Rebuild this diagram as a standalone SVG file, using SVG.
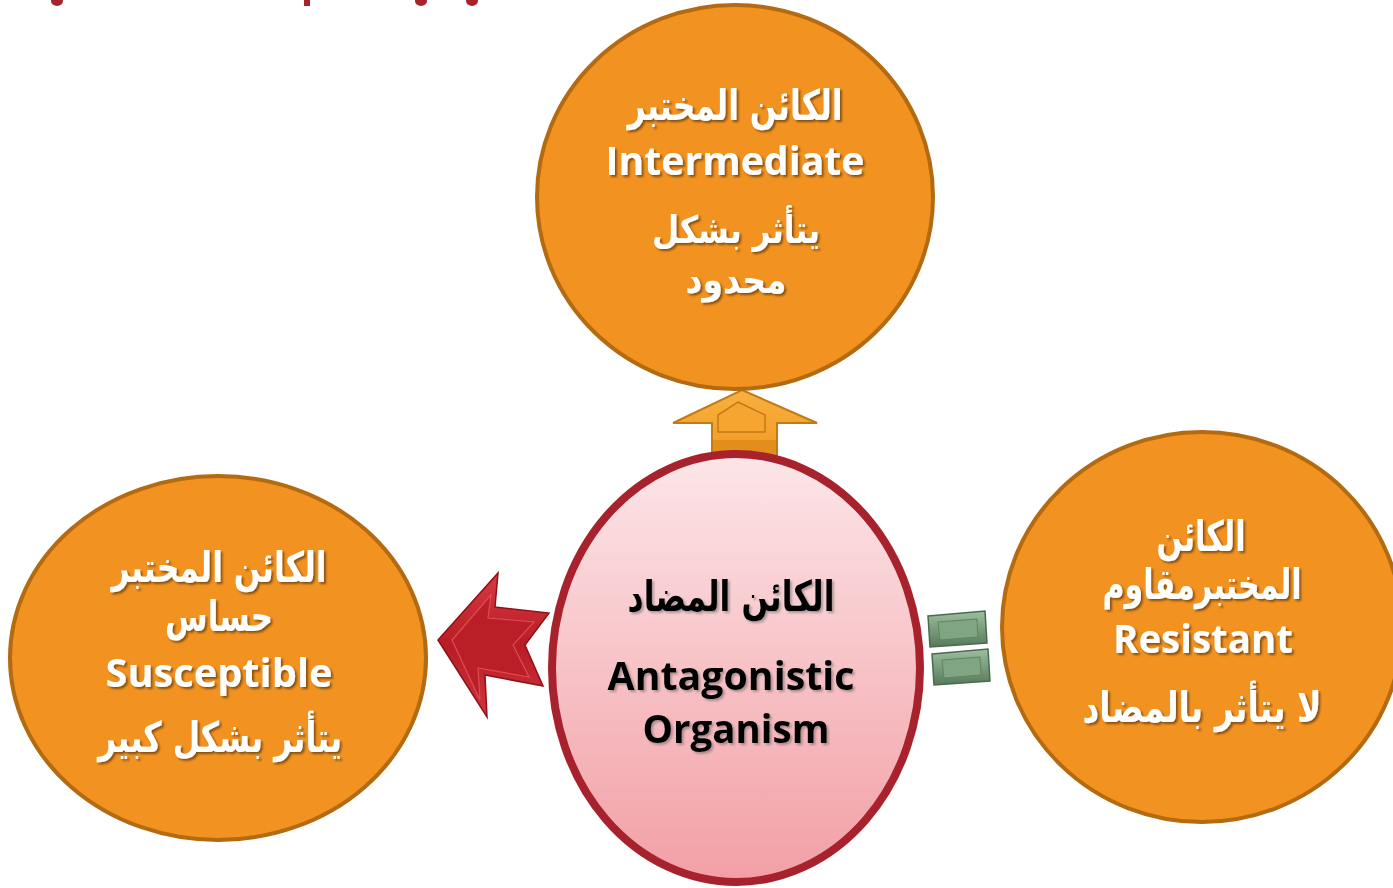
<svg xmlns="http://www.w3.org/2000/svg" width="1393" height="888" viewBox="0 0 1393 888">
<style>
.node{fill:#F29220;stroke:#B46A10;stroke-width:4}
.w{fill:#FFFFFF;font-weight:bold;filter:url(#sh)}
.b{fill:#000000;font-weight:bold;filter:url(#shg)}
.ar{font-family:"DejaVu Sans",sans-serif;font-size:42px;direction:rtl}
.ar2{font-family:"DejaVu Sans",sans-serif;font-size:38px;direction:rtl}
.en{font-family:"Open Sans","Noto Sans",sans-serif;font-size:40px}
</style>
<defs>
<filter id="sh" x="-10%" y="-30%" width="120%" height="160%">
<feDropShadow dx="2" dy="2" stdDeviation="1.2" flood-color="#000" flood-opacity="0.45"/>
</filter>
<filter id="shg" x="-10%" y="-30%" width="120%" height="160%">
<feDropShadow dx="2" dy="2" stdDeviation="1.2" flood-color="#555" flood-opacity="0.45"/>
</filter>
<linearGradient id="pink" x1="0" y1="0" x2="0" y2="1">
<stop offset="0" stop-color="#FCE6E8"/>
<stop offset="1" stop-color="#F29FA5"/>
</linearGradient>
<linearGradient id="redg" x1="0" y1="0" x2="0" y2="1">
<stop offset="0" stop-color="#D83A42"/>
<stop offset="0.5" stop-color="#B81C25"/>
<stop offset="1" stop-color="#D0343C"/>
</linearGradient>
<linearGradient id="greeng" x1="0" y1="0" x2="0" y2="1">
<stop offset="0" stop-color="#9DBF9F"/>
<stop offset="1" stop-color="#557B5A"/>
</linearGradient>
<linearGradient id="orag" x1="0" y1="0" x2="0" y2="1">
<stop offset="0" stop-color="#F8B040"/>
<stop offset="1" stop-color="#F09A22"/>
</linearGradient>
</defs>

<g id="title-fragments" fill="#A8232B">
<ellipse cx="57" cy="1" rx="6" ry="5"/>
<rect x="304" y="0" width="6" height="6"/>
<ellipse cx="421" cy="1" rx="6" ry="5"/>
<ellipse cx="472" cy="1" rx="6" ry="5"/>
</g>

<g id="connectors">
<g id="arrow-up">
<path d="M742,390 L817,423 L777,423 L777,460 L712,460 L712,423 L673,423 Z" fill="url(#orag)" stroke="#C27A16" stroke-width="2"/>
<path d="M738,402 L765,415 L765,432 L718,432 L718,415 Z" fill="#F6A630" stroke="#C27A16" stroke-width="1.5"/>
<rect x="713" y="440" width="63" height="18" fill="#E38E1C"/>
</g>
<g id="arrow-left">
<path d="M438,640 L498,573 L495,607 L549,613 L525,645 L543,686 L485,675 L487,717 Z" fill="url(#redg)" stroke="#8E1218" stroke-width="1.5"/>
<path d="M452,640 L491,595 L488,618 L534,622 L513,645 L529,677 L478,668 L480,700 Z" fill="#BA1E27" stroke="#E04A52" stroke-width="1.2"/>
</g>
<g id="equals">
<path d="M928,616 L985,611 L987,643 L930,647 Z" fill="url(#greeng)" stroke="#4A6A4E" stroke-width="1.5"/>
<path d="M938,622 L977,619 L978,637 L940,640 Z" fill="#7FA583" stroke="#5E8462" stroke-width="1"/>
<path d="M932,654 L988,649 L990,681 L934,685 Z" fill="url(#greeng)" stroke="#4A6A4E" stroke-width="1.5"/>
<path d="M942,660 L980,657 L981,675 L944,678 Z" fill="#7FA583" stroke="#5E8462" stroke-width="1"/>
</g>
</g>

<g id="node-intermediate">
<ellipse class="node" cx="735" cy="197" rx="198" ry="192"/>
<text class="w ar" x="735" y="120" text-anchor="middle" textLength="215" lengthAdjust="spacingAndGlyphs">الكائن المختبر</text>
<text class="w en" x="735" y="175" text-anchor="middle" textLength="259" lengthAdjust="spacingAndGlyphs">Intermediate</text>
<text class="w ar2" x="736" y="243" text-anchor="middle" textLength="168" lengthAdjust="spacingAndGlyphs">يتأثر بشكل</text>
<text class="w ar2" x="736" y="293" text-anchor="middle" textLength="101" lengthAdjust="spacingAndGlyphs">محدود</text>
</g>

<g id="node-susceptible">
<ellipse class="node" cx="218" cy="658" rx="208" ry="182"/>
<text class="w ar" x="219" y="582" text-anchor="middle" textLength="215" lengthAdjust="spacingAndGlyphs">الكائن المختبر</text>
<text class="w ar" x="219" y="631" text-anchor="middle" textLength="108" lengthAdjust="spacingAndGlyphs">حساس</text>
<text class="w en" x="219" y="687" text-anchor="middle" textLength="227" lengthAdjust="spacingAndGlyphs">Susceptible</text>
<text class="w ar" x="220" y="752" text-anchor="middle" textLength="244" lengthAdjust="spacingAndGlyphs">يتأثر بشكل كبير</text>
</g>

<g id="node-resistant">
<ellipse class="node" cx="1202" cy="627" rx="200" ry="195"/>
<text class="w ar" x="1201" y="551" text-anchor="middle" textLength="89" lengthAdjust="spacingAndGlyphs">الكائن</text>
<text class="w ar" x="1202" y="599" text-anchor="middle" textLength="199" lengthAdjust="spacingAndGlyphs">المختبرمقاوم</text>
<text class="w en" x="1203" y="653" text-anchor="middle" textLength="180" lengthAdjust="spacingAndGlyphs">Resistant</text>
<text class="w ar" x="1202" y="722" text-anchor="middle" textLength="239" lengthAdjust="spacingAndGlyphs">لا يتأثر بالمضاد</text>
</g>

<g id="node-antagonistic">
<ellipse cx="736" cy="668" rx="184" ry="214" fill="url(#pink)" stroke="#A7222C" stroke-width="8"/>
<text class="b ar" x="731" y="611" text-anchor="middle" textLength="207" lengthAdjust="spacingAndGlyphs">الكائن المضاد</text>
<text class="b en" x="731" y="690" text-anchor="middle" textLength="247" lengthAdjust="spacingAndGlyphs">Antagonistic</text>
<text class="b en" x="736" y="743" text-anchor="middle" textLength="187" lengthAdjust="spacingAndGlyphs">Organism</text>
</g>
</svg>
